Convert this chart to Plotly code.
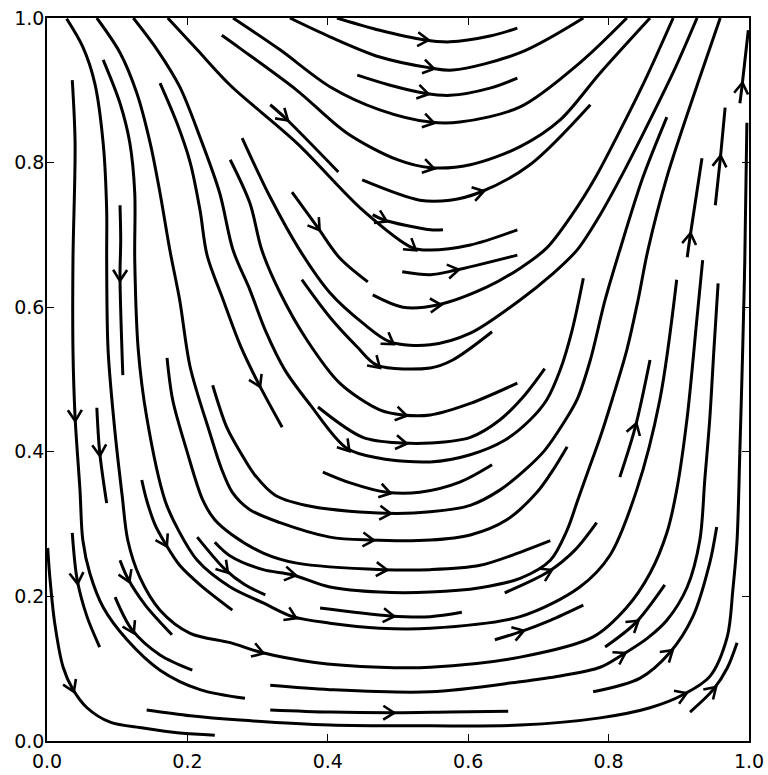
import numpy as np
import plotly.graph_objects as go

# ---------------- data (axis units) ----------------
x_ticks = [0.0, 0.2, 0.4, 0.6, 0.8, 1.0]
x_tick_labels = ["0.0", "0.2", "0.4", "0.6", "0.8", "1.0"]
y_ticks = [0.0, 0.2, 0.4, 0.6, 0.8, 1.0]
y_tick_labels = ["0.0", "0.2", "0.4", "0.6", "0.8", "1.0"]

# streamlines hugging the left wall / lower-left corner
wall_lines = [
    [[.001, .004, .011, .023, .036, .057, .090, .137, .189, .239],
     [.267, .227, .163, .102, .073, .046, .026, .018, .011, .008]],
    [[.036, .040, .037, .037, .040, .047, .051, .061, .080, .114, .161, .218, .282],
     [.914, .827, .665, .541, .448, .347, .278, .232, .185, .140, .098, .071, .059]],
    [[.036, .043, .057, .075], [.288, .223, .172, .130]],
    [[.071, .075, .085], [.461, .400, .329]],
    [[.104, .105, .104, .108], [.741, .693, .642, .506]],
    [[.135, .142, .154, .168, .189, .218, .264], [.361, .333, .299, .274, .243, .216, .181]],
    [[.104, .115, .140, .178], [.250, .225, .188, .147]],
    [[.097, .121, .161, .207], [.199, .154, .119, .098]],
    [[.214, .254, .282, .311], [.282, .237, .216, .202]],
    [[.161, .185, .204, .218, .228, .251, .275, .301, .335], [.910, .855, .800, .734, .672, .610, .548, .495, .434]],
]

# long U-shaped streamlines (outer ones)
outer_lines = [
    [[.028, .051, .068, .080, .085, .085, .087, .097, .107, .115, .132, .161, .204, .261, .303, .379, .474, .546,
      .674, .778, .826, .859, .883, .897, .912, .926, .934],
     [.999, .960, .910, .827, .734, .665, .541, .426, .340, .278, .227, .181, .149, .136, .123, .109, .102, .102,
      .116, .144, .185, .232, .288, .347, .448, .586, .665]],
    [[.080, .104, .118, .125, .125, .130, .142, .168, .187, .214, .261, .308, .350, .403, .474, .546, .674, .759,
      .802, .840, .873, .897],
     [.942, .882, .827, .758, .665, .541, .448, .333, .292, .250, .213, .191, .172, .163, .156, .156, .172, .213,
      .257, .347, .472, .638]],
    [[.142, .204, .275, .403, .546, .674, .788, .859, .906, .944, .969, .977, .983, .987, .991, .994, .997],
     [.043, .035, .029, .022, .021, .022, .032, .046, .064, .089, .144, .209, .278, .402, .541, .665, .855]],
    [[.318, .403, .489, .574, .657], [.043, .040, .039, .040, .041]],
    [[.318, .403, .546, .674, .731, .788, .819, .855, .883, .912, .930, .937, .944, .950, .956],
     [.077, .071, .068, .082, .090, .102, .119, .142, .167, .213, .278, .361, .444, .541, .633]],
    [[.239, .261, .308, .349, .403, .474, .546, .617, .674, .717, .741, .756, .774, .788, .805, .826, .842, .856,
      .883, .930, .959],
     [.275, .256, .237, .230, .213, .206, .206, .212, .225, .250, .292, .333, .382, .420, .472, .541, .610, .679,
      .780, .918, 1.0]],
    [[.171, .179, .199, .222, .239, .264, .308, .356, .479, .546, .617, .674, .717],
     [.530, .472, .402, .333, .306, .285, .260, .246, .237, .237, .243, .261, .277]],
    [[.071, .104, .128, .147, .161, .175, .189, .204, .232, .248, .264, .289, .332, .403, .460, .546, .603, .655,
      .698, .721, .741],
     [1.0, .952, .896, .827, .758, .679, .610, .517, .426, .378, .344, .320, .302, .282, .278, .278, .285, .306,
      .344, .375, .407]],
    [[.236, .256, .275, .296, .325, .379, .484, .546, .603, .645, .681, .709, .734, .755, .774, .795, .816, .849,
      .883],
     [.492, .434, .400, .368, .340, .324, .315, .317, .326, .347, .375, .402, .437, .472, .527, .610, .679, .780,
      .863]],
    [[.393, .432, .484, .531, .588, .634], [.372, .357, .344, .344, .358, .382]],
    [[.389, .489, .546, .591], [.184, .173, .172, .178]],
]

# streamlines of the inner (upper) family
inner_lines = [
    [[.123, .157, .189, .218, .246, .265, .289, .311, .339, .375, .427, .474, .546, .603, .652, .688, .712, .731,
      .748, .764],
     [1.0, .956, .905, .835, .758, .679, .624, .568, .513, .465, .405, .391, .386, .396, .416, .444, .472, .513,
      .568, .640]],
    [[.386, .450, .507, .546, .603, .645, .681, .709], [.462, .420, .412, .412, .420, .444, .479, .515]],
    [[.261, .289, .306, .332, .370, .417, .474, .507, .546, .603, .670],
     [.804, .744, .679, .620, .555, .495, .458, .451, .451, .467, .495]],
    [[.363, .403, .442, .470, .546, .578, .634], [.638, .586, .545, .520, .516, .527, .566]],
    [[.278, .318, .360, .403, .450, .489, .546, .603, .674, .719, .755, .788, .823, .859, .895, .926],
     [.834, .752, .679, .620, .578, .552, .548, .564, .610, .645, .679, .728, .790, .859, .931, 1.0]],
    [[.349, .385, .417, .457], [.759, .711, .668, .635]],
    [[.318, .339, .415], [.880, .862, .787]],
    [[.464, .507, .556, .627, .674, .712, .748, .781, .813, .852, .892],
     [.617, .600, .603, .628, .654, .682, .728, .779, .838, .914, 1.0]],
    [[.506, .546, .581, .670], [.649, .645, .651, .672]],
    [[.172, .214, .261, .356, .450, .521, .546, .603, .670], [1.0, .956, .907, .827, .734, .682, .679, .686, .707]],
    [[.464, .479, .546, .564], [.728, .721, .707, .707]],
    [[.449, .531, .574, .617, .688, .774], [.776, .748, .748, .759, .797, .880]],
    [[.249, .275, .356, .427, .499, .546, .603, .674, .731, .788, .859],
     [.976, .958, .900, .841, .804, .793, .797, .822, .859, .924, 1.0]],
    [[.265, .332, .403, .474, .546, .588, .674, .759, .826], [1.0, .956, .905, .873, .856, .856, .877, .938, 1.0]],
    [[.442, .489, .538, .574, .631, .670], [.921, .907, .896, .893, .903, .917]],
    [[.346, .403, .474, .546, .578, .674, .764], [1.0, .974, .946, .931, .928, .952, 1.0]],
    [[.413, .474, .536, .574, .631, .670], [1.0, .983, .970, .967, .975, .986]],
]

# short pieces along the right wall and lower right corner
right_lines = [
    [[.778, .845, .887, .920, .944, .954], [.068, .087, .122, .172, .246, .296]],
    [[.916, .949, .969, .983], [.040, .071, .101, .136]],
    [[.795, .838, .880], [.130, .163, .216]],
    [[.638, .674, .717, .764], [.140, .151, .167, .188]],
    [[.652, .714, .752, .783], [.205, .234, .264, .302]],
    [[.816, .838, .859], [.365, .434, .527]],
    [[.912, .916, .933], [.669, .697, .806]],
    [[.952, .959, .966], [.741, .804, .876]],
    [[.987, .990, .999], [.882, .905, .983]],
]

# arrow positions (the direction follows the streamline under each arrow)
arrow_x = [.538, .546, .538, .546, .546, .617, .339, .479, .385, .521, .581, .556, .489, .470, .301, .507,
           .507, .427, .484, .484, .460, .479, .349, .168, .254, .350, .489, .303, .115, .121, .043, .075,
           .040, .104, .036, .489, .906, .949, .887, .819, .838, .674, .714, .838, .916, .959, .990]
arrow_y = [.970, .931, .896, .856, .793, .759, .862, .721, .711, .682, .651, .603, .552, .520, .495, .451,
           .412, .405, .344, .315, .278, .237, .230, .274, .237, .172, .173, .123, .225, .154, .223, .400,
           .448, .642, .073, .039, .064, .071, .122, .119, .163, .151, .234, .434, .697, .804, .905]

# ---------------- figure ----------------
W, H = 768, 775
ML, MR, MT, MB = 47, 19, 18, 34
PW, PH = W - ML - MR, H - MT - MB

all_lines = wall_lines + outer_lines + inner_lines + right_lines

fig = go.Figure()
for xs, ys in all_lines:
    fig.add_trace(go.Scatter(x=xs, y=ys, mode="lines",
                             line=dict(color="black", width=3.0, shape="spline", smoothing=0.9),
                             hoverinfo="skip", showlegend=False))

# arrow heads ("->" chevrons) oriented along the nearest streamline
segs = []
for xs, ys in all_lines:
    p = np.column_stack([np.array(xs) * PW, np.array(ys) * PH])
    for i in range(len(p) - 1):
        segs.append((p[i], p[i + 1]))

hx, hy = [], []
L_HEAD, W_HEAD = 11.0, 7.0
for ax_, ay_ in zip(arrow_x, arrow_y):
    q = np.array([ax_ * PW, ay_ * PH])
    best, bd = None, 1e9
    for a, b in segs:
        ab = b - a
        t = np.clip(np.dot(q - a, ab) / max(np.dot(ab, ab), 1e-9), 0, 1)
        d = np.linalg.norm(a + t * ab - q)
        if d < bd:
            bd, best = d, (a, b, a + t * ab)
    a, b, foot = best
    u = (b - a) / np.linalg.norm(b - a)
    n = np.array([-u[1], u[0]])
    tip = foot + u * 4.0
    w1 = tip - u * L_HEAD + n * W_HEAD
    w2 = tip - u * L_HEAD - n * W_HEAD
    for pt in (w1, tip, w2):
        hx.append(pt[0] / PW)
        hy.append(pt[1] / PH)
    hx.append(None)
    hy.append(None)

fig.add_trace(go.Scatter(x=hx, y=hy, mode="lines", line=dict(color="black", width=2.6),
                         hoverinfo="skip", showlegend=False))

axis_common = dict(range=[0, 1], showgrid=False, zeroline=False, showline=True, linecolor="black",
                   linewidth=1.6, mirror="ticks", ticks="inside", ticklen=7, tickwidth=1.2,
                   tickcolor="black", automargin=False,
                   tickfont=dict(family="DejaVu Sans", size=19, color="black"))

fig.update_layout(
    width=W, height=H,
    margin=dict(l=ML, r=MR, t=MT, b=MB, autoexpand=False),
    paper_bgcolor="white", plot_bgcolor="white",
    xaxis=dict(tickvals=x_ticks, ticktext=x_tick_labels, ticklabelstandoff=2, **axis_common),
    yaxis=dict(tickvals=y_ticks, ticktext=y_tick_labels, ticklabelstandoff=-3, **axis_common),
)

fig.write_html("out.html", config={"displayModeBar": False})
